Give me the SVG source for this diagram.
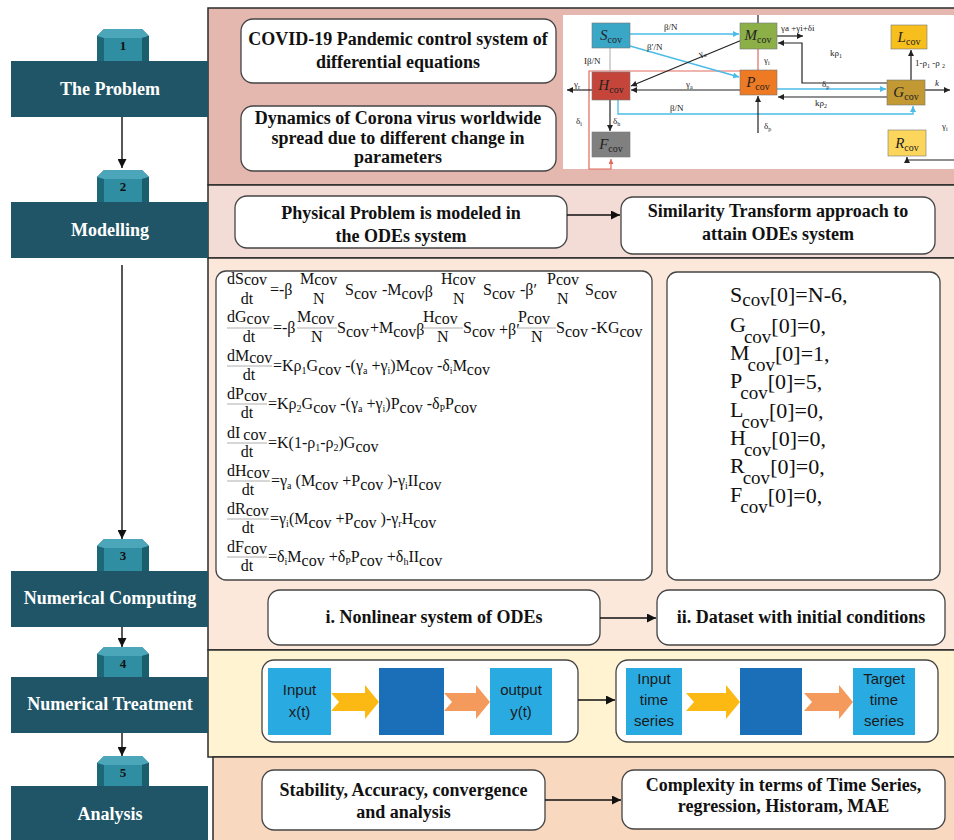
<svg xmlns="http://www.w3.org/2000/svg" width="954" height="840" viewBox="0 0 954 840">
<style>
.bn{fill:#1f5566}
.bt{font-family:"Liberation Serif",serif;font-weight:bold;font-size:18px;fill:#fff;text-anchor:middle}
.tn{font-family:"Liberation Serif",serif;font-weight:bold;font-size:13px;fill:#111;text-anchor:middle}
.pn{stroke:#2b2b2b;stroke-width:1.5}
.bx{fill:#fff;stroke:#444;stroke-width:1.3}
.bxt{font-family:"Liberation Serif",serif;font-weight:bold;font-size:18px;fill:#111;text-anchor:middle}
.eq{font-family:"Liberation Serif",serif;font-size:16px;fill:#111}
.s{font-size:10px}
.ic{font-family:"Liberation Serif",serif;font-size:22px;fill:#111}
.icc{font-size:19px}
.con{stroke:#111;stroke-width:1.4;fill:none}
.fb{stroke:#999;stroke-width:0.8}
.nd{stroke:#777;stroke-width:0.6}
.nl{font-family:"Liberation Serif",serif;font-size:15px;font-style:italic;fill:#222;text-anchor:middle}
.ncov{font-size:10px;font-style:normal}
.el{font-family:"Liberation Serif",serif;font-size:9px;fill:#222}
.es{font-size:6px}
.dk{stroke:#222;stroke-width:1.2;fill:none}
.bl{stroke:#4bbbe8;stroke-width:1.3;fill:none}
.rd{stroke:#e06a5e;stroke-width:1.2;fill:none}
.nt{font-family:"Liberation Sans",sans-serif;font-size:15px;fill:#1a1a1a;text-anchor:middle}
.lb{fill:#29abe2}
.db{fill:#1b6fb8}
.ya{fill:#fdb913}
.oa{fill:#f39a5c}
</style>
<defs>
<marker id="ah" viewBox="0 0 10 10" refX="10" refY="5" markerWidth="9" markerHeight="9" markerUnits="userSpaceOnUse" orient="auto"><path d="M0,0 L10,5 L0,10 z" fill="#111"/></marker>
<marker id="mk" viewBox="0 0 10 10" refX="10" refY="5" markerWidth="6" markerHeight="6" markerUnits="userSpaceOnUse" orient="auto"><path d="M0,0 L10,5 L0,10 z" fill="#222"/></marker>
<marker id="mb" viewBox="0 0 10 10" refX="10" refY="5" markerWidth="6" markerHeight="6" markerUnits="userSpaceOnUse" orient="auto"><path d="M0,0 L10,5 L0,10 z" fill="#4bbbe8"/></marker>
<marker id="mr" viewBox="0 0 10 10" refX="10" refY="5" markerWidth="5" markerHeight="5" markerUnits="userSpaceOnUse" orient="auto"><path d="M0,0 L10,5 L0,10 z" fill="#e06a5e"/></marker>
<g id="tab">
<polygon points="0,32 0,7 7,0 45,0 52,7 52,32" fill="#1e6778"/>
<polygon points="0,7 7,0 45,0 52,7 45,9 7,9" fill="#4aa6b8"/>
<rect x="7" y="9" width="38" height="23" fill="#2f8ea2"/>
<polygon points="45,9 52,7 52,32 45,32" fill="#1b5f6f"/>
</g>
</defs>
<rect width="954" height="840" fill="#fff"/>

<!-- panels -->
<g id="panels">
<rect class="pn" x="208" y="8" width="760" height="177" fill="#e4b8af"/>
<rect class="pn" x="208" y="185" width="760" height="73" fill="#f3dbd6"/>
<rect class="pn" x="208" y="258" width="760" height="392" fill="#fce8da"/>
<rect class="pn" x="208" y="650" width="760" height="107" fill="#fff3d2"/>
<rect class="pn" x="213" y="757" width="760" height="95" fill="#f9d8c0"/>
</g>

<!-- left column -->
<g id="step1"><use href="#tab" x="97" y="29"/><rect class="bn" x="11" y="61" width="197" height="56"/><text class="tn" x="123" y="50">1</text><text class="bt" x="110" y="95">The Problem</text></g>
<g id="step2"><use href="#tab" x="97" y="170"/><rect class="bn" x="11" y="202" width="197" height="56"/><text class="tn" x="123" y="191">2</text><text class="bt" x="110" y="236">Modelling</text></g>
<g id="step3"><use href="#tab" x="97" y="539"/><rect class="bn" x="11" y="571" width="197" height="56"/><text class="tn" x="123" y="560">3</text><text class="bt" x="110" y="604">Numerical Computing</text></g>
<g id="step4"><use href="#tab" x="97" y="647"/><rect class="bn" x="11" y="677" width="197" height="56"/><text class="tn" x="123" y="668">4</text><text class="bt" x="110" y="710">Numerical Treatment</text></g>
<g id="step5"><use href="#tab" x="97" y="756"/><rect class="bn" x="11" y="786" width="197" height="60"/><text class="tn" x="123" y="777">5</text><text class="bt" x="110" y="820">Analysis</text></g>

<!-- panel 1 boxes -->
<g id="covid"><rect class="bx" x="241" y="19" width="315" height="64" rx="12"/><text class="bxt" x="398" y="45">COVID-19 Pandemic control system  of</text><text class="bxt" x="398" y="68">differential equations</text></g>
<g id="dynamics"><rect class="bx" x="241" y="106" width="315" height="65" rx="12"/><text class="bxt" x="398" y="124">Dynamics of Corona virus worldwide</text><text class="bxt" x="398" y="144">spread due to different change in</text><text class="bxt" x="398" y="163">parameters</text></g>

<!-- compartment model -->
<g id="model">
<rect x="563" y="15" width="391" height="154" fill="#fff"/>
<g id="model-edges">
<path class="rd" d="M740,71 H589 V169 H611 V159" marker-end="url(#mr)"/>
<path class="bl" d="M630,34 H739" marker-end="url(#mb)"/>
<path class="bl" d="M630,46 L739,77" marker-end="url(#mb)"/>
<path class="dk" d="M742,40 L631,86" marker-end="url(#mk)"/>
<path d="M610,48 V72" stroke="#aaa" stroke-width="1"/>
<path class="dk" d="M740,90 H631" marker-end="url(#mk)"/>
<path class="dk" d="M592,90 H567" marker-end="url(#mk)"/>
<path class="dk" d="M610,100 V131" marker-end="url(#mk)"/>
<path class="bl" d="M618,100 V114 H913 V106" marker-end="url(#mb)"/>
<path class="rd" d="M758,49 V70"/>
<path class="dk" d="M777,36 H803" marker-end="url(#mk)"/>
<path class="dk" d="M758,15 V23"/>
<path class="dk" d="M887,83 H802 V43 H778" marker-end="url(#mk)"/>
<path class="bl" d="M777,89 H886" marker-end="url(#mb)"/>
<path class="dk" d="M887,97 H778" marker-end="url(#mk)"/>
<path class="dk" d="M925,90 H950" marker-end="url(#mk)"/>
<path class="dk" d="M911,80 V50" marker-end="url(#mk)"/>
<path class="dk" d="M758,133 V96" marker-end="url(#mk)"/>
<path class="dk" d="M954,160 H907 V157" marker-end="url(#mk)"/>
</g>
<g id="model-labels">
<text class="el" x="664" y="30">β/N</text>
<text class="el" x="647" y="50">β′/N</text>
<text class="el" x="700" y="57" transform="rotate(-22 700 57)">γ<tspan class="es" dy="2">a</tspan></text>
<text class="el" x="584" y="64">Iβ/N</text>
<text class="el" x="686" y="87">γ<tspan class="es" dy="2">a</tspan></text>
<text class="el" x="574" y="87">γ<tspan class="es" dy="2">r</tspan></text>
<text class="el" x="576" y="124">δ<tspan class="es" dy="2">i</tspan></text>
<text class="el" x="613" y="124">δ<tspan class="es" dy="2">h</tspan></text>
<text class="el" x="670" y="111">β/N</text>
<text class="el" x="764" y="63">γ<tspan class="es" dy="2">i</tspan></text>
<text class="el" x="781" y="31">γa +γi+δi</text>
<text class="el" x="830" y="56">kρ<tspan class="es" dy="2">1</tspan></text>
<text class="el" x="822" y="87">δ<tspan class="es" dy="2">p</tspan></text>
<text class="el" x="815" y="106">kρ<tspan class="es" dy="2">2</tspan></text>
<text class="el" x="935" y="86" font-style="italic" font-size="11">k</text>
<text class="el" x="915" y="66">1-ρ<tspan class="es" dy="2">1</tspan><tspan dy="-2"> -ρ </tspan><tspan class="es" dy="2">2</tspan></text>
<text class="el" x="764" y="129">δ<tspan class="es" dy="2">p</tspan></text>
<text class="el" x="942" y="129">γ<tspan class="es" dy="2">i</tspan></text>
</g>
<g id="S"><rect class="nd" x="592" y="23" width="38" height="25" fill="#3aa7c7"/><text class="nl" x="611" y="40">S<tspan class="ncov" dy="3">cov</tspan></text></g>
<g id="M"><rect class="nd" x="740" y="23" width="37" height="26" fill="#8caf48"/><text class="nl" x="758" y="40">M<tspan class="ncov" dy="3">cov</tspan></text></g>
<g id="H"><rect class="nd" x="592" y="72" width="38" height="28" fill="#c6453a"/><text class="nl" x="611" y="90">H<tspan class="ncov" dy="3">cov</tspan></text></g>
<g id="P"><rect class="nd" x="740" y="70" width="37" height="25" fill="#ee7a23"/><text class="nl" x="758" y="87">P<tspan class="ncov" dy="3">cov</tspan></text></g>
<g id="L"><rect class="nd" x="891" y="25" width="36" height="24" fill="#f7bf1e"/><text class="nl" x="909" y="42">L<tspan class="ncov" dy="3">cov</tspan></text></g>
<g id="G"><rect class="nd" x="887" y="80" width="38" height="25" fill="#c29933"/><text class="nl" x="906" y="97">G<tspan class="ncov" dy="3">cov</tspan></text></g>
<g id="F"><rect class="nd" x="592" y="132" width="38" height="25" fill="#808080"/><text class="nl" x="611" y="149">F<tspan class="ncov" dy="3">cov</tspan></text></g>
<g id="R"><rect class="nd" x="888" y="130" width="38" height="26" fill="#fcd65c"/><text class="nl" x="907" y="148">R<tspan class="ncov" dy="3">cov</tspan></text></g>
</g>

<!-- panel 2 -->
<g id="physical"><rect class="bx" x="235" y="196" width="332" height="52" rx="12"/><text class="bxt" x="401" y="219">Physical Problem is modeled in</text><text class="bxt" x="401" y="242">the ODEs system</text></g>
<g id="similarity"><rect class="bx" x="621" y="197" width="314" height="57" rx="12"/><text class="bxt" x="778" y="217">Similarity Transform approach to</text><text class="bxt" x="778" y="240">attain ODEs system</text></g>

<!-- panel 3 -->
<g id="equations"><rect class="bx" x="216" y="271" width="436" height="309" rx="10" stroke="#666" stroke-width="1.6"/>
<text class="eq" x="227" y="284">dS<tspan dy="1">cov</tspan></text>
<text class="eq" x="247" y="304" text-anchor="middle">dt</text>
<text class="eq" x="270" y="295">=-β</text>
<text class="eq" x="300" y="284">M<tspan dy="1">cov</tspan></text>
<text class="eq" x="313" y="304">N</text>
<text class="eq" x="345" y="295">S<tspan dy="4">cov</tspan></text>
<text class="eq" x="382" y="295">-M<tspan dy="4">cov</tspan><tspan dy="-2">β</tspan></text>
<text class="eq" x="441" y="284">H<tspan dy="1">cov</tspan></text>
<text class="eq" x="453" y="304">N</text>
<text class="eq" x="483" y="295">S<tspan dy="4">cov</tspan></text>
<text class="eq" x="520" y="295">-β′</text>
<text class="eq" x="547" y="284">P<tspan dy="1">cov</tspan></text>
<text class="eq" x="557" y="304">N</text>
<text class="eq" x="585" y="295">S<tspan dy="4">cov</tspan></text>

<text class="eq" x="227" y="322">dG<tspan dy="2">cov</tspan></text>
<line class="fb" x1="227" y1="328" x2="272" y2="328"/>
<text class="eq" x="249" y="342" text-anchor="middle">dt</text>
<text class="eq" x="273" y="333">=-β</text>
<text class="eq" x="297" y="322">M<tspan dy="2">cov</tspan></text>
<line class="fb" x1="297" y1="328" x2="337" y2="328"/>
<text class="eq" x="311" y="342">N</text>
<text class="eq" x="337" y="333">S<tspan dy="4">cov</tspan></text>
<text class="eq" x="370" y="333">+M<tspan dy="4">cov</tspan><tspan dy="-2">β</tspan></text>
<text class="eq" x="423" y="322">H<tspan dy="2">cov</tspan></text>
<line class="fb" x1="423" y1="328" x2="463" y2="328"/>
<text class="eq" x="437" y="342">N</text>
<text class="eq" x="463" y="333">S<tspan dy="4">cov</tspan></text>
<text class="eq" x="499" y="335" font-size="10">+β′</text>
<text class="eq" x="518" y="322">P<tspan dy="2">cov</tspan></text>
<line class="fb" x1="517" y1="328" x2="556" y2="328"/>
<text class="eq" x="531" y="342">N</text>
<text class="eq" x="556" y="333">S<tspan dy="4">cov</tspan></text>
<text class="eq" x="591" y="333">-KG<tspan dy="4">cov</tspan></text>

<text class="eq" x="227" y="361">dM<tspan dy="2">cov</tspan></text>
<line class="fb" x1="227" y1="366" x2="272" y2="366"/>
<text class="eq" x="249" y="380" text-anchor="middle">dt</text>
<text class="eq" x="273" y="371">=Kρ<tspan class="s" dy="3">1</tspan><tspan dy="-3">G</tspan><tspan dy="4">cov</tspan><tspan dy="-4"> -(γ</tspan><tspan class="s" dy="3">a</tspan><tspan dy="-3"> +γ</tspan><tspan class="s" dy="3">i</tspan><tspan dy="-3">)M</tspan><tspan dy="4">cov</tspan><tspan dy="-4"> -δ</tspan><tspan class="s" dy="3">i</tspan><tspan dy="-3">M</tspan><tspan dy="4">cov</tspan></text>

<text class="eq" x="227" y="399">dP<tspan dy="2">cov</tspan></text>
<line class="fb" x1="227" y1="404" x2="267" y2="404"/>
<text class="eq" x="247" y="418" text-anchor="middle">dt</text>
<text class="eq" x="268" y="409">=Kρ<tspan class="s" dy="3">2</tspan><tspan dy="-3">G</tspan><tspan dy="4">cov</tspan><tspan dy="-4"> -(γ</tspan><tspan class="s" dy="3">a</tspan><tspan dy="-3"> +γ</tspan><tspan class="s" dy="3">i</tspan><tspan dy="-3">)P</tspan><tspan dy="4">cov</tspan><tspan dy="-4"> -δ</tspan><tspan class="s" dy="3">P</tspan><tspan dy="-3">P</tspan><tspan dy="4">cov</tspan></text>

<text class="eq" x="227" y="438">dI<tspan dx="3" dy="2">cov</tspan></text>
<line class="fb" x1="227" y1="443" x2="267" y2="443"/>
<text class="eq" x="247" y="457" text-anchor="middle">dt</text>
<text class="eq" x="268" y="448">=K(1-ρ<tspan class="s" dy="3">1</tspan><tspan dy="-3">-ρ</tspan><tspan class="s" dy="3">2</tspan><tspan dy="-3">)G</tspan><tspan dy="4">cov</tspan></text>

<text class="eq" x="227" y="476">dH<tspan dy="2">cov</tspan></text>
<line class="fb" x1="227" y1="481" x2="270" y2="481"/>
<text class="eq" x="248" y="495" text-anchor="middle">dt</text>
<text class="eq" x="271" y="486">=γ<tspan class="s" dy="3">a</tspan><tspan dy="-3"> (M</tspan><tspan dy="4">cov</tspan><tspan dy="-4"> +P</tspan><tspan dy="4">cov</tspan><tspan dy="-4"> )-γ</tspan><tspan class="s" dy="3">i</tspan><tspan dy="-3">II</tspan><tspan dy="4">cov</tspan></text>

<text class="eq" x="227" y="514">dR<tspan dy="2">cov</tspan></text>
<line class="fb" x1="227" y1="519" x2="269" y2="519"/>
<text class="eq" x="248" y="533" text-anchor="middle">dt</text>
<text class="eq" x="270" y="524">=γ<tspan class="s" dy="3">i</tspan><tspan dy="-3">(M</tspan><tspan dy="4">cov</tspan><tspan dy="-4"> +P</tspan><tspan dy="4">cov</tspan><tspan dy="-4"> )-γ</tspan><tspan class="s" dy="3">r</tspan><tspan dy="-3">H</tspan><tspan dy="4">cov</tspan></text>

<text class="eq" x="227" y="552">dF<tspan dy="2">cov</tspan></text>
<line class="fb" x1="227" y1="557" x2="267" y2="557"/>
<text class="eq" x="247" y="571" text-anchor="middle">dt</text>
<text class="eq" x="268" y="562">=δ<tspan class="s" dy="3">i</tspan><tspan dy="-3">M</tspan><tspan dy="4">cov</tspan><tspan dy="-4"> +δ</tspan><tspan class="s" dy="3">P</tspan><tspan dy="-3">P</tspan><tspan dy="4">cov</tspan><tspan dy="-4"> +δ</tspan><tspan class="s" dy="3">h</tspan><tspan dy="-3">II</tspan><tspan dy="4">cov</tspan></text>
</g>

<g id="initial"><rect class="bx" x="667" y="272" width="273" height="308" rx="10" stroke="#666" stroke-width="1.6"/>
<text class="ic" x="730" y="302">S<tspan class="icc" dy="4">cov</tspan><tspan dy="-4">[0]=N-6,</tspan></text>
<text class="ic" x="730" y="332">G<tspan class="icc" dx="-2" dy="11">cov</tspan><tspan dy="-10">[0]=0,</tspan></text>
<text class="ic" x="730" y="360">M<tspan class="icc" dx="-2" dy="11">cov</tspan><tspan dy="-10">[0]=1,</tspan></text>
<text class="ic" x="730" y="388">P<tspan class="icc" dx="-2" dy="11">cov</tspan><tspan dy="-10">[0]=5,</tspan></text>
<text class="ic" x="730" y="417">L<tspan class="icc" dx="-2" dy="11">cov</tspan><tspan dy="-10">[0]=0,</tspan></text>
<text class="ic" x="730" y="445">H<tspan class="icc" dx="-2" dy="11">cov</tspan><tspan dy="-10">[0]=0,</tspan></text>
<text class="ic" x="730" y="473">R<tspan class="icc" dx="-2" dy="11">cov</tspan><tspan dy="-10">[0]=0,</tspan></text>
<text class="ic" x="730" y="502">F<tspan class="icc" dx="-2" dy="11">cov</tspan><tspan dy="-10">[0]=0,</tspan></text>
</g>

<g id="nonlinear"><rect class="bx" x="268" y="590" width="332" height="55" rx="12"/><text class="bxt" x="434" y="623">i. Nonlinear system of ODEs</text></g>
<g id="dataset"><rect class="bx" x="657" y="590" width="288" height="55" rx="12"/><text class="bxt" x="801" y="623">ii. Dataset with initial conditions</text></g>

<!-- panel 4 -->
<g id="nn1"><rect class="bx" x="262" y="660" width="316" height="82" rx="12"/>
<rect class="lb" x="268" y="668" width="63" height="67"/>
<polygon class="ya" points="331,693 365,693 365,685 379,702 365,719 365,711 331,711 339,702"/>
<rect class="db" x="379" y="668" width="65" height="67"/>
<polygon class="oa" points="444,693 476,693 476,685 490,702 476,719 476,711 444,711 452,702"/>
<rect class="lb" x="490" y="668" width="62" height="67"/>
<text class="nt" x="299.5" y="695">Input</text><text class="nt" x="299.5" y="717">x(t)</text>
<text class="nt" x="521" y="695">output</text><text class="nt" x="521" y="717">y(t)</text>
</g>
<g id="nn2"><rect class="bx" x="616" y="660" width="322" height="82" rx="12"/>
<rect class="lb" x="626" y="668" width="56" height="67"/>
<polygon class="ya" points="686,693 726,693 726,685 740,702 726,719 726,711 686,711 694,702"/>
<rect class="db" x="740" y="668" width="62" height="67"/>
<polygon class="oa" points="804,693 839,693 839,685 853,702 839,719 839,711 804,711 812,702"/>
<rect class="lb" x="853" y="668" width="62" height="67"/>
<text class="nt" x="654" y="684">Input</text><text class="nt" x="654" y="705">time</text><text class="nt" x="654" y="726">series</text>
<text class="nt" x="884" y="684">Target</text><text class="nt" x="884" y="705">time</text><text class="nt" x="884" y="726">series</text>
</g>

<!-- panel 5 -->
<g id="stability"><rect class="bx" x="262" y="770" width="283" height="60" rx="12"/><text class="bxt" x="403.5" y="796">Stability, Accuracy, convergence</text><text class="bxt" x="403.5" y="818">and analysis</text></g>
<g id="complexity"><rect class="bx" x="622" y="770" width="323" height="59" rx="12"/><text class="bxt" x="783.5" y="791">Complexity in terms of Time Series,</text><text class="bxt" x="783.5" y="812">regression, Historam, MAE</text></g>

<!-- connectors -->
<g id="connectors">
<path class="con" d="M122,117 V168" marker-end="url(#ah)"/>
<path class="con" d="M122,265 V539" marker-end="url(#ah)"/>
<path class="con" d="M122,627 V647" marker-end="url(#ah)"/>
<path class="con" d="M122,733 V756" marker-end="url(#ah)"/>
<path class="con" d="M567,215 H620" marker-end="url(#ah)"/>
<path class="con" d="M600,618 H656" marker-end="url(#ah)"/>
<path class="con" d="M578,700 H615" marker-end="url(#ah)"/>
<path class="con" d="M545,800 H621" marker-end="url(#ah)"/>
</g>
</svg>
